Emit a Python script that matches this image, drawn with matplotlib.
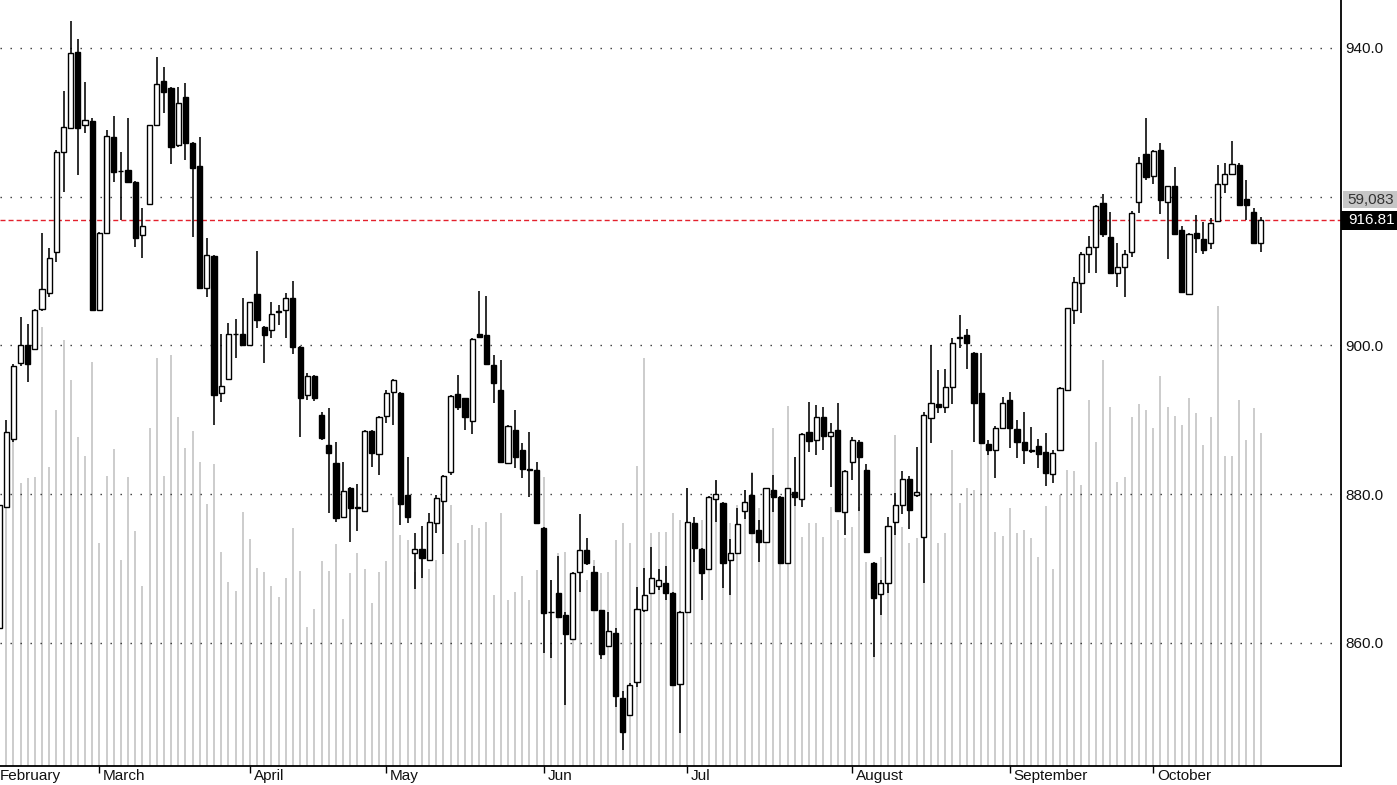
import matplotlib
matplotlib.use("Agg")
import matplotlib.pyplot as plt
import matplotlib.transforms as mtransforms
from matplotlib.patches import Rectangle
import numpy as np

plt.rcParams['font.family'] = ['Liberation Sans', 'DejaVu Sans']

# ---------------- data ----------------
opens = [862.0, 878.3, 887.4, 897.6, 900.1, 899.5, 904.9, 907.1, 912.6, 926.0,
         929.2, 939.5, 929.6, 930.2, 904.8, 915.1, 928.0, 923.5, 923.6, 922.0,
         914.9, 919.0, 929.6, 935.6, 934.6, 927.0, 933.4, 927.2, 924.1, 907.7,
         912.0, 893.6, 895.5, 901.5, 901.6, 900.1, 906.9, 902.5, 902.1, 904.6,
         904.8, 906.4, 899.8, 893.3, 895.9, 890.7, 886.6, 884.2, 876.9, 880.8,
         878.3, 877.7, 888.5, 885.4, 890.5, 893.7, 893.6, 879.9, 872.1, 872.6,
         871.2, 876.1, 879.1, 883.0, 893.5, 892.9, 889.8, 901.5, 901.4, 897.4,
         894.0, 884.2, 888.6, 886.0, 883.4, 883.3, 875.5, 864.2, 866.7, 863.8,
         860.5, 869.5, 872.5, 869.5, 864.4, 859.6, 861.3, 852.6, 850.3, 854.8,
         864.4, 866.7, 867.7, 868.1, 866.7, 854.5, 864.2, 876.1, 872.6, 870.0,
         879.4, 878.8, 871.2, 872.1, 877.7, 879.9, 875.2, 873.6, 880.6, 879.6,
         870.8, 880.3, 879.4, 888.4, 887.3, 890.4, 887.8, 888.6, 877.6, 884.3,
         887.0, 883.3, 870.8, 866.6, 868.1, 876.3, 878.6, 882.1, 879.9, 874.3,
         890.3, 892.1, 891.7, 894.4, 901.1, 901.4, 899.0, 893.6, 886.8, 886.0,
         888.9, 892.7, 888.8, 887.0, 886.0, 886.5, 885.7, 882.7, 886.0, 894.0,
         904.8, 908.4, 912.3, 913.2, 919.2, 914.6, 909.7, 910.5, 912.6, 919.3,
         925.7, 922.8, 926.3, 919.3, 921.4, 915.5, 906.9, 915.1, 914.3, 913.8,
         916.7, 921.7, 923.1, 924.3, 919.7, 918.0, 913.8]
highs = [878.8, 890.0, 897.5, 903.8, 902.9, 904.9, 915.1, 913.1, 926.3, 934.2,
         943.6, 941.2, 935.4, 930.6, 915.2, 929.0, 930.9, 926.0, 930.6, 922.1,
         918.5, 929.7, 938.8, 937.4, 934.7, 934.8, 935.3, 927.3, 928.0, 914.5,
         912.1, 901.6, 903.0, 903.6, 906.4, 905.9, 912.7, 902.6, 905.8, 905.4,
         907.1, 908.7, 899.9, 896.3, 896.0, 891.0, 891.6, 887.0, 884.3, 881.0,
         881.4, 888.6, 888.6, 890.5, 894.0, 895.5, 893.7, 885.0, 874.8, 875.7,
         877.5, 879.9, 882.6, 893.3, 896.0, 893.0, 901.0, 907.3, 906.6, 898.7,
         898.0, 889.3, 891.3, 886.9, 888.4, 884.3, 875.6, 868.5, 871.7, 864.2,
         869.5, 877.3, 874.1, 870.4, 864.5, 864.2, 862.0, 853.5, 854.6, 867.5,
         870.1, 872.9, 870.0, 870.4, 866.8, 864.3, 880.8, 876.9, 872.8, 879.8,
         881.9, 878.9, 874.0, 878.2, 880.6, 882.9, 876.5, 880.9, 882.6, 879.7,
         880.9, 885.0, 888.2, 892.4, 892.0, 891.7, 889.6, 892.3, 883.2, 887.7,
         887.3, 884.0, 870.9, 868.5, 876.9, 880.2, 883.1, 882.5, 886.4, 891.0,
         900.1, 896.7, 896.8, 901.0, 904.1, 902.2, 899.1, 899.0, 887.3, 889.2,
         893.1, 893.7, 890.0, 891.1, 889.0, 887.4, 888.2, 885.9, 894.4, 905.1,
         909.2, 912.6, 914.7, 918.9, 920.4, 917.9, 913.8, 912.8, 918.1, 925.3,
         930.6, 926.3, 927.2, 921.5, 924.0, 916.0, 915.1, 917.5, 916.6, 917.1,
         924.3, 924.5, 927.5, 924.6, 922.3, 918.5, 917.3]
lows = [861.5, 878.2, 887.0, 897.2, 895.1, 899.4, 904.7, 906.5, 911.2, 920.6,
        929.1, 922.9, 928.6, 904.7, 904.6, 915.0, 922.0, 916.9, 921.9, 913.2,
        911.8, 918.9, 929.5, 931.3, 924.4, 926.7, 924.9, 914.6, 907.6, 906.5,
        889.3, 892.4, 895.4, 898.3, 900.0, 900.0, 902.4, 897.6, 901.0, 902.8,
        901.0, 898.9, 887.7, 892.7, 892.6, 887.3, 877.5, 876.3, 876.8, 873.6,
        875.1, 877.6, 883.7, 882.6, 889.6, 889.3, 875.9, 876.1, 867.3, 868.7,
        871.1, 874.8, 872.0, 882.6, 891.3, 888.6, 888.1, 901.0, 897.4, 892.3,
        884.2, 884.1, 883.5, 882.2, 879.6, 876.0, 858.7, 858.0, 863.4, 851.7,
        860.4, 866.9, 870.5, 864.3, 857.8, 859.5, 851.4, 845.6, 850.2, 854.1,
        864.2, 866.6, 867.1, 865.8, 854.3, 847.9, 864.1, 870.9, 865.8, 869.9,
        876.3, 867.4, 866.5, 872.0, 876.7, 874.7, 870.9, 873.5, 877.6, 870.7,
        870.7, 878.4, 878.3, 885.7, 885.3, 886.0, 881.0, 877.6, 874.5, 881.9,
        877.7, 872.1, 858.1, 863.8, 866.7, 874.5, 877.3, 875.3, 879.6, 868.1,
        886.9, 890.9, 890.9, 892.1, 899.7, 896.8, 887.0, 886.8, 885.3, 882.2,
        888.8, 886.2, 884.9, 884.0, 885.5, 883.5, 881.1, 881.5, 885.9, 893.9,
        902.9, 904.4, 909.7, 909.7, 914.6, 909.6, 907.9, 906.5, 911.9, 917.8,
        922.3, 921.7, 917.7, 911.6, 914.9, 907.1, 906.8, 912.4, 912.3, 913.0,
        916.6, 920.5, 923.0, 918.8, 916.9, 913.7, 912.6]
closes = [878.6, 888.4, 897.2, 900.1, 897.5, 904.8, 907.6, 911.8, 926.0, 929.4,
          939.3, 929.2, 930.3, 904.8, 915.1, 928.2, 923.3, 923.4, 922.0, 914.5,
          916.1, 929.6, 935.2, 934.1, 926.7, 932.6, 927.2, 923.9, 907.7, 912.2,
          893.3, 894.6, 901.6, 901.6, 900.1, 905.8, 903.4, 901.4, 904.2, 904.5,
          906.4, 899.8, 892.9, 895.9, 892.9, 887.6, 885.5, 876.8, 880.4, 878.2,
          878.2, 888.5, 885.5, 890.4, 893.6, 895.4, 878.7, 876.9, 872.6, 871.4,
          876.3, 879.5, 882.5, 893.2, 891.7, 890.4, 900.9, 901.1, 897.5, 895.0,
          884.3, 889.2, 885.0, 883.4, 883.3, 876.1, 864.0, 864.1, 863.5, 861.2,
          869.4, 872.5, 870.8, 864.4, 858.5, 861.6, 852.9, 848.0, 854.4, 864.6,
          866.4, 868.7, 868.5, 866.7, 854.4, 864.2, 876.3, 872.8, 869.4, 879.6,
          880.0, 870.8, 872.1, 876.0, 879.0, 874.8, 873.6, 880.8, 879.6, 870.8,
          880.8, 879.6, 888.1, 887.2, 890.4, 887.8, 888.4, 877.7, 883.1, 887.3,
          885.0, 872.2, 866.1, 868.1, 875.7, 878.6, 882.1, 877.9, 880.3, 890.7,
          892.3, 891.7, 894.4, 900.3, 901.0, 900.3, 892.3, 886.9, 886.0, 888.9,
          892.3, 888.9, 887.0, 886.0, 885.8, 885.4, 882.9, 885.5, 894.3, 905.0,
          908.5, 912.3, 913.2, 918.8, 915.0, 909.7, 910.5, 912.3, 917.8, 924.5,
          922.7, 926.2, 919.6, 921.4, 915.0, 907.2, 915.0, 914.5, 912.8, 916.5,
          921.7, 923.1, 924.4, 918.9, 918.9, 913.8, 916.81]
volumes_k = [30.9, 29.9, 36.1, 29.5, 30.1, 30.2, 45.8, 31.2, 37.2, 44.5,
             40.3, 34.3, 32.4, 42.2, 23.3, 30.3, 33.1, 21.5, 30.2, 24.5,
             18.8, 35.3, 42.6, 30.3, 42.9, 36.4, 33.2, 35.0, 31.7, 27.4,
             31.5, 22.3, 19.2, 18.3, 26.5, 23.7, 20.7, 20.3, 18.8, 17.6,
             19.6, 24.8, 20.4, 14.5, 16.4, 21.4, 20.4, 23.2, 15.3, 20.1,
             22.2, 20.6, 17.0, 20.3, 21.4, 28.1, 24.1, 23.6, 20.3, 22.0,
             20.6, 21.5, 22.2, 27.2, 23.3, 23.6, 25.2, 24.8, 25.5, 17.9,
             26.4, 17.3, 18.2, 19.8, 17.3, 20.5, 30.2, 19.4, 22.2, 22.3,
             20.1, 20.8, 19.4, 21.5, 20.1, 20.3, 23.6, 25.4, 23.3, 31.3,
             42.6, 24.3, 24.4, 24.4, 26.4, 25.7, 29.0, 24.3, 25.7, 24.9,
             29.8, 23.9, 25.4, 27.2, 28.8, 30.7, 26.9, 26.7, 35.3, 25.7,
             37.6, 32.3, 23.9, 25.4, 25.4, 23.9, 27.0, 25.7, 23.8, 24.9,
             27.0, 21.3, 20.5, 21.8, 24.6, 34.6, 24.9, 23.3, 23.8, 30.6,
             28.5, 23.3, 24.3, 33.0, 27.5, 29.0, 28.8, 34.0, 33.3, 24.4,
             24.0, 26.9, 24.3, 24.6, 23.8, 21.8, 27.1, 20.6, 28.3, 30.9,
             30.8, 29.3, 38.2, 33.8, 42.4, 37.5, 29.6, 30.2, 36.4, 37.8,
             37.2, 35.3, 40.7, 37.5, 36.5, 35.6, 38.4, 36.9, 33.5, 36.4,
             48.0, 32.4, 32.4, 38.2, 34.0, 37.4, 34.8]
month_names = ['February', 'March', 'April', 'May', 'Jun', 'Jul',
               'August', 'September', 'October']
month_start_idx = [0, 14, 35, 54, 76, 96, 119, 141, 161]
grid_levels = [860, 880, 900, 920, 940]
label_levels = [860, 880, 900, 940]
last_price = 916.81
volume_marker = 59083

# ---------------- figure ----------------
W, H = 1397, 785
fig = plt.figure(figsize=(W / 100, H / 100), dpi=100)
rect = [0, 19 / H, 1341 / W, 766 / H]

n = len(closes)
idx = np.arange(n)
o = np.array(opens); h = np.array(highs); l = np.array(lows); c = np.array(closes)
vol = np.array(volumes_k) * 1000.0

xlim = (0.14, 187.2)

# volume axes (background)
axv = fig.add_axes(rect)
axv.set_xlim(*xlim)
axv.set_ylim(0, 79960)
axv.vlines(idx, 0, vol, colors='#c8c8c8', linewidth=1.3)
axv.set_xticks([]); axv.set_yticks([])
for s in axv.spines.values():
    s.set_visible(False)

# price axes (foreground)
ax = fig.add_axes(rect, facecolor='none')
ax.set_zorder(axv.get_zorder() + 1)
ax.set_xlim(*xlim)
ax.set_ylim(843.46, 946.45)

for lev in grid_levels:
    ax.axhline(lev, color='#333333', linewidth=1.0, linestyle=(0, (1, 6.2)), zorder=1)
ax.axhline(last_price, color='#e3202c', linewidth=1.0, linestyle=(0, (3.6, 2.2)), zorder=1.5)

# candles
ax.vlines(idx, l, h, colors='black', linewidth=1.15, zorder=2)
up = c >= o
body_bottom = np.minimum(o, c)
body_height = np.maximum(np.abs(c - o), 0.08)
ax.bar(idx, body_height, bottom=body_bottom, width=0.72,
       color=np.where(up, 'white', 'black'), edgecolor='black', linewidth=1.0, zorder=3)

# axes styling
for side in ['left', 'top']:
    ax.spines[side].set_visible(False)
for side in ['right', 'bottom']:
    ax.spines[side].set_color('black')
    ax.spines[side].set_linewidth(1.3)

ax.yaxis.tick_right()
ax.set_yticks(label_levels)
ax.set_yticklabels(['%.1f' % v for v in label_levels])
ax.tick_params(axis='y', length=0, pad=3, labelsize=11, labelcolor='#111111')

ax.set_xticks(month_start_idx[1:])
ax.tick_params(axis='x', length=5, width=1, direction='out', color='black',
               labelbottom=False)

trans_xb = mtransforms.blended_transform_factory(ax.transData, ax.transAxes)
for name, i0 in zip(month_names, month_start_idx):
    xpos = i0 + 0.5 if i0 > 0 else xlim[0]
    ax.text(xpos, -0.004, name, transform=trans_xb, ha='left', va='top',
            fontsize=11, color='#111111', clip_on=False)

# right side value boxes
trans_ap = mtransforms.blended_transform_factory(ax.transAxes, ax.transData)
box_w = W / 1341 - 1.0
ax.add_patch(Rectangle((1.0, last_price - 1.28), box_w, 2.56, transform=trans_ap,
                       facecolor='black', edgecolor='none', clip_on=False, zorder=5))
ax.text(1.0055, last_price, '%.2f' % last_price, transform=trans_ap, ha='left',
        va='center', color='white', fontsize=11, clip_on=False, zorder=6)

trans_av = mtransforms.blended_transform_factory(axv.transAxes, axv.transData)
ax.add_patch(Rectangle((1.0015, volume_marker - 850), box_w, 1750,
                       transform=trans_av, facecolor='#c6c6c6', edgecolor='none',
                       clip_on=False, zorder=5))
ax.text(1.005, volume_marker, '{:,}'.format(volume_marker), transform=trans_av,
        ha='left', va='center', color='#333333', fontsize=11, clip_on=False, zorder=6)

fig.savefig('out.png', dpi=100)
